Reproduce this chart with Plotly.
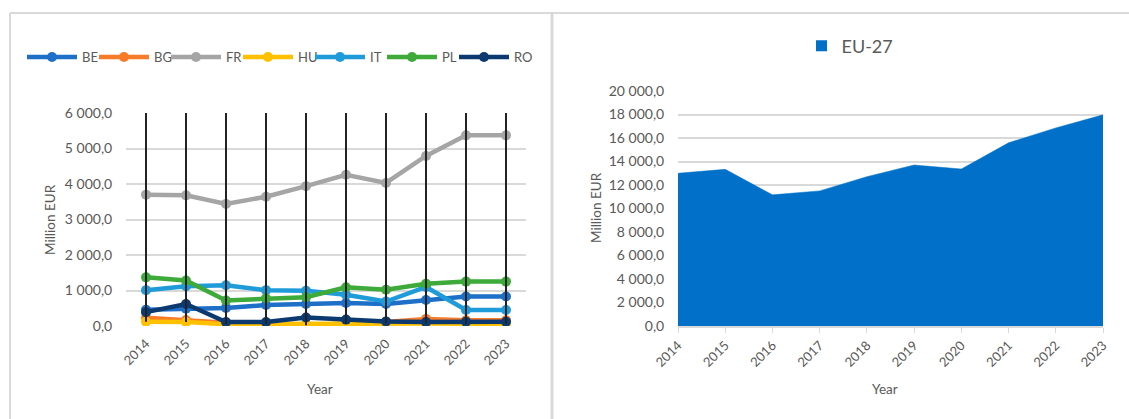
import plotly.graph_objects as go

years = [2014, 2015, 2016, 2017, 2018, 2019, 2020, 2021, 2022, 2023]
year_labels = [str(y) for y in years]

BE = [460, 490, 510, 590, 620, 650, 620, 730, 830, 830]
BG = [230, 170, 90, 70, 20, 70, 110, 200, 160, 160]
FR = [3700, 3680, 3440, 3640, 3940, 4260, 4030, 4790, 5370, 5370]
HU = [120, 110, 50, 60, 60, 60, 70, 70, 65, 65]
IT = [1010, 1120, 1150, 1010, 990, 880, 690, 1100, 450, 450]
PL = [1370, 1280, 720, 780, 810, 1090, 1020, 1190, 1250, 1250]
RO = [390, 620, 110, 110, 240, 180, 130, 110, 120, 120]

EU27 = [13000, 13330, 11160, 11500, 12710, 13700, 13360, 15590, 16860, 17970]

series = [
    ("BE", BE, "#1E6FC8"),
    ("BG", BG, "#F77B28"),
    ("FR", FR, "#A5A5A5"),
    ("HU", HU, "#FFC000"),
    ("IT", IT, "#1F9BDA"),
    ("PL", PL, "#3DAA3A"),
    ("RO", RO, "#0C3A70"),
]

LEFT_YMAX = 6000
RIGHT_YMAX = 20000
AREA_COLOR = "#0070C8"

W, H = 1129, 419
def px(x):
    return x / W
def py(y):
    return (H - y) / H

FONT = "Lato"
GREY_TXT = "#595959"
GRID = "#D9D9D9"

fig = go.Figure()

for name, vals, col in series:
    fig.add_trace(go.Scatter(
        x=years, y=vals, name=name, mode="lines+markers",
        line=dict(color=col, width=4.5),
        marker=dict(color=col, size=10),
        xaxis="x", yaxis="y", legend="legend",
    ))
# invisible trailing legend spacer so the last label is not clipped
fig.add_trace(go.Scatter(
    x=[None], y=[None], name="", mode="lines", line=dict(width=0, color="rgba(0,0,0,0)"),
    hoverinfo="skip", xaxis="x", yaxis="y", legend="legend",
))

# vertical black lines from lowest value up to axis max
vx, vy = [], []
for i, yr in enumerate(years):
    lo = min(s[1][i] for s in series)
    vx += [yr, yr, None]
    vy += [lo, LEFT_YMAX, None]
fig.add_trace(go.Scatter(
    x=vx, y=vy, mode="lines", line=dict(color="#222222", width=2),
    showlegend=False, hoverinfo="skip", xaxis="x", yaxis="y",
))

fig.add_trace(go.Scatter(
    x=years, y=EU27, name="EU-27", mode="lines", fill="tozeroy",
    line=dict(color=AREA_COLOR, width=0.5), fillcolor=AREA_COLOR,
    xaxis="x2", yaxis="y2", showlegend=False,
))
# legend entry for the area (square swatch)
fig.add_trace(go.Scatter(
    x=[None], y=[None], name="EU-27", mode="markers",
    marker=dict(symbol="square", size=11, color=AREA_COLOR),
    xaxis="x2", yaxis="y2", legend="legend2",
))

tickfont = dict(family=FONT, size=14, color=GREY_TXT)
xtickfont = dict(family=FONT, size=13, color=GREY_TXT)
titlefont = dict(family=FONT, size=13.5, color=GREY_TXT)

fig.update_layout(
    width=W, height=H,
    margin=dict(l=0, r=0, t=0, b=0, pad=0),
    paper_bgcolor="white", plot_bgcolor="white",
    separators=", ",
    font=dict(family=FONT, color=GREY_TXT),
    xaxis=dict(
        domain=[px(126), px(526)], range=[2013.5, 2023.5],
        tickvals=years, ticktext=year_labels, tickangle=-45,
        showgrid=False, zeroline=False, showline=False, automargin=False,
        tickfont=xtickfont, ticks="outside", ticklen=4, tickcolor="rgba(0,0,0,0)",
        anchor="y",
    ),
    yaxis=dict(
        domain=[py(326), py(113)], range=[0, LEFT_YMAX], dtick=1000,
        tickformat=",.1f", showgrid=True, gridcolor=GRID, gridwidth=1.5,
        zeroline=False, showline=False, tickfont=tickfont, automargin=False,
        ticks="outside", ticklen=10, tickcolor="rgba(0,0,0,0)",
        anchor="x",
    ),
    xaxis2=dict(
        domain=[px(678), px(1103)], range=[2014, 2023],
        tickvals=years, ticktext=year_labels, tickangle=-45,
        showgrid=False, zeroline=False, showline=True, linecolor=GRID, linewidth=1.5,
        ticks="outside", ticklen=5, tickcolor=GRID, automargin=False,
        tickfont=xtickfont, anchor="y2",
    ),
    yaxis2=dict(
        domain=[py(326), py(91)], range=[0, RIGHT_YMAX], dtick=2000,
        tickformat=",.1f", showgrid=True, gridcolor=GRID, gridwidth=1.5,
        zeroline=False, showline=False, tickfont=tickfont, automargin=False,
        ticks="outside", ticklen=10, tickcolor="rgba(0,0,0,0)",
        anchor="x2", layer="below traces",
    ),
    legend=dict(
        orientation="h", x=px(22), y=py(57), xanchor="left", yanchor="middle",
        font=dict(family=FONT, size=13, color=GREY_TXT),
        itemwidth=50, entrywidth=7, entrywidthmode="pixels",
        bgcolor="rgba(0,0,0,0)", tracegroupgap=0, itemclick=False,
    ),
    legend2=dict(
        orientation="h", x=px(850), y=py(46), xanchor="center", yanchor="middle",
        font=dict(family=FONT, size=18, color=GREY_TXT),
        itemwidth=30, bgcolor="rgba(0,0,0,0)",
    ),
    showlegend=True,
    annotations=[
        dict(text="Million EUR", x=px(50), y=py(220), xref="paper", yref="paper",
             xanchor="center", yanchor="middle",
             textangle=-90, showarrow=False, font=titlefont),
        dict(text="Million EUR", x=px(596), y=py(208), xref="paper", yref="paper",
             xanchor="center", yanchor="middle",
             textangle=-90, showarrow=False, font=titlefont),
        dict(text="Year", x=px(320), y=py(389), xref="paper", yref="paper",
             xanchor="center", yanchor="middle",
             showarrow=False, font=titlefont),
        dict(text="Year", x=px(885), y=py(389), xref="paper", yref="paper",
             xanchor="center", yanchor="middle",
             showarrow=False, font=titlefont),
    ],
    shapes=[
        dict(type="line", xref="paper", yref="paper", x0=px(10), x1=px(10), y0=0, y1=py(13),
             line=dict(color=GRID, width=2)),
        dict(type="line", xref="paper", yref="paper", x0=px(10), x1=px(552), y0=py(13), y1=py(13),
             line=dict(color=GRID, width=2)),
        dict(type="line", xref="paper", yref="paper", x0=px(552), x1=px(552), y0=0, y1=py(13),
             line=dict(color=GRID, width=3)),
        dict(type="line", xref="paper", yref="paper", x0=px(552), x1=1, y0=py(13), y1=py(13),
             line=dict(color=GRID, width=2)),
    ],
)

fig.write_html("out.html")
